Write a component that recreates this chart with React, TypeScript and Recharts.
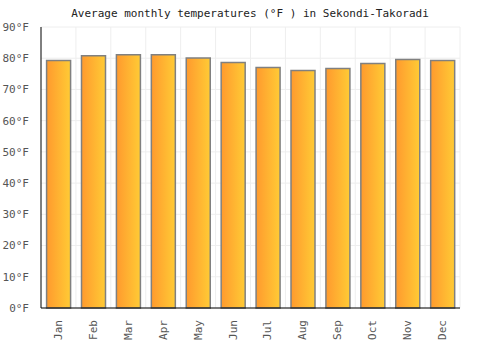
import React from 'react';
import { BarChart, Bar, XAxis, YAxis, CartesianGrid } from 'recharts';

const months = ['Jan', 'Feb', 'Mar', 'Apr', 'May', 'Jun', 'Jul', 'Aug', 'Sep', 'Oct', 'Nov', 'Dec'];
const temps = [79.3, 80.8, 81.1, 81.1, 80.1, 78.6, 77.0, 76.1, 76.7, 78.3, 79.6, 79.3];
const yTicks = [0, 10, 20, 30, 40, 50, 60, 70, 80, 90];

const data = months.map((m, i) => ({ month: m, temp: temps[i] }));

const font = '"DejaVu Sans Mono", monospace';

const XTick = (props: any) => {
  const { x, y, payload } = props;
  return (
    <text
      x={x}
      y={y}
      transform={`rotate(-90, ${x}, ${y})`}
      textAnchor="end"
      dominantBaseline="central"
      fontFamily={font}
      fontSize={11}
      fill="#555"
    >
      {payload.value}
    </text>
  );
};

export default function App() {
  return (
    <div style={{ position: 'absolute', left: 0, top: 0, width: 500, height: 350, background: '#fff' }}>
      <div
        style={{
          position: 'absolute',
          top: 7,
          width: 500,
          textAlign: 'center',
          fontFamily: font,
          fontSize: 11,
          color: '#222',
        }}
      >
        Average monthly temperatures (°F ) in Sekondi-Takoradi
      </div>
      <BarChart
        width={500}
        height={350}
        data={data}
        margin={{ top: 27, right: 40, left: 0, bottom: 0 }}
        barCategoryGap="16%"
      >
        <defs>
          <linearGradient id="barGrad" x1="0" y1="0" x2="1" y2="0">
            <stop offset="0%" stopColor="#ff9a2e" />
            <stop offset="100%" stopColor="#ffcb35" />
          </linearGradient>
        </defs>
        <CartesianGrid
          stroke="#eeeeee"
          verticalCoordinatesGenerator={({ offset }: any) =>
            months.map((_, i) => offset.left + ((i + 1) * offset.width) / months.length)
          }
        />
        <XAxis
          dataKey="month"
          height={42}
          axisLine={{ stroke: '#000' }}
          tickLine={false}
          interval={0}
          tick={<XTick />}
          tickMargin={6}
        />
        <YAxis
          width={41}
          domain={[0, 90]}
          ticks={yTicks}
          axisLine={{ stroke: '#000' }}
          tickLine={false}
          tickFormatter={(v) => `${v}°F`}
          tick={{ fontFamily: font, fontSize: 11, fill: '#555' }}
          tickMargin={6}
        />
        <Bar
          dataKey="temp"
          fill="url(#barGrad)"
          stroke="#808080"
          strokeWidth={1.5}
          isAnimationActive={false}
        />
      </BarChart>
    </div>
  );
}
